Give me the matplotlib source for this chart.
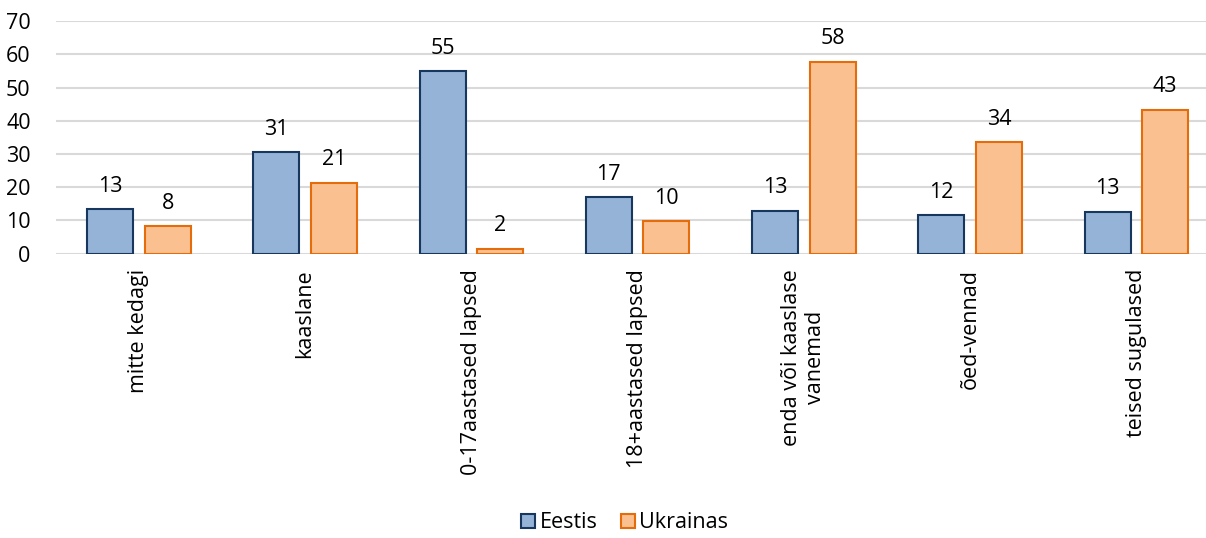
import numpy as np
import matplotlib
matplotlib.use("Agg")
import matplotlib.pyplot as plt

categories = ["mitte kedagi", "kaaslane", "0-17aastased lapsed", "18+aastased lapsed",
              "enda või kaaslase\nvanemad", "õed-vennad", "teised sugulased"]
eestis = [13.4, 30.6, 54.9, 17.0, 13.0, 11.6, 12.7]
ukrainas = [8.3, 21.4, 1.5, 9.7, 57.8, 33.5, 43.3]
series_names = ["Eestis", "Ukrainas"]
yticks = list(range(0, 71, 10))

plt.rcParams['font.family'] = ['Open Sans', 'DejaVu Sans']
FS = 15.5

fig = plt.figure(figsize=(12.06, 5.38), dpi=100)
ax = fig.add_axes([0.0462, 0.5285, 0.965, 0.432])

x = np.arange(len(categories))
w = 0.277
off = 0.173
b1 = ax.bar(x - off, eestis, w, color="#95B3D7", edgecolor="#17375E", linewidth=1.5,
            label=series_names[0], zorder=3)
b2 = ax.bar(x + off, ukrainas, w, color="#FAC090", edgecolor="#E46C0A", linewidth=1.5,
            label=series_names[1], zorder=3)

for bars, vals in ((b1, eestis), (b2, ukrainas)):
    for rect, v in zip(bars, vals):
        ax.annotate(f"{round(v):d}", (rect.get_x() + rect.get_width() / 2, v),
                    xytext=(0, 9), textcoords="offset points",
                    ha="center", va="bottom", fontsize=FS, color="#000000")

ax.set_xlim(-0.5, len(categories) - 0.5)
ax.set_ylim(0, 70)
ax.set_yticks(yticks)
ax.set_xticks(x)
ax.set_xticklabels(categories, rotation=90, fontsize=FS, ha="center", va="top",
                   multialignment="center")
ax.tick_params(axis="y", labelsize=FS, length=0, pad=18)
ax.tick_params(axis="x", length=0, pad=11)
ax.grid(axis="y", color="#D9D9D9", linewidth=1.5, zorder=0)
for s in ax.spines.values():
    s.set_visible(False)

fig.legend(handles=[b1, b2], loc="center", bbox_to_anchor=(0.518, 1 - 523 / 538),
           ncol=2, frameon=False, fontsize=FS, handlelength=0.65, handleheight=0.65,
           handletextpad=0.2, columnspacing=1.1, borderaxespad=0)

fig.savefig("out.png", dpi=100)
